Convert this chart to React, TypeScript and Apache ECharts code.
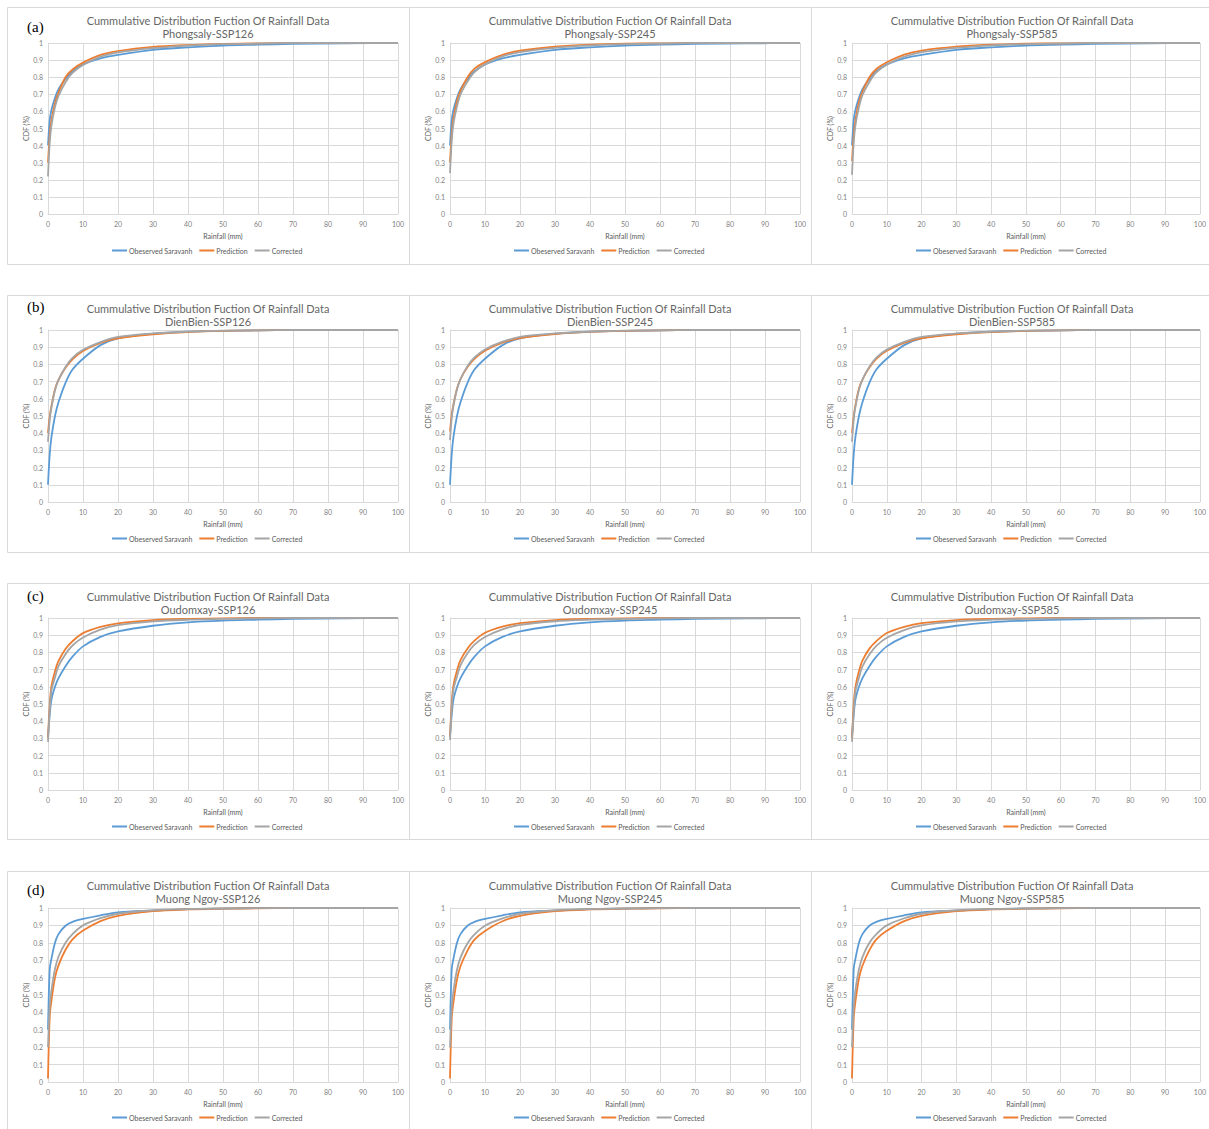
import React, { useEffect, useRef } from "react";
import * as echarts from "echarts";

// Rainfall sample points (mm) shared by every curve
const RAIN = [0, 0.5, 1, 2, 3, 5, 7, 10, 15, 20, 30, 40, 50, 60, 70, 85, 100];

// (a) Phongsaly
const PHONGSALY_OBS = [0.4, 0.55, 0.61, 0.68, 0.73, 0.79, 0.835, 0.875, 0.91, 0.93, 0.96, 0.975, 0.985, 0.99, 0.995, 0.998, 1];
const PHONGSALY_126_PRED = [0.3, 0.46, 0.55, 0.65, 0.71, 0.8, 0.845, 0.885, 0.93, 0.953, 0.977, 0.988, 0.995, 0.998, 1, 1, 1];
const PHONGSALY_126_CORR = [0.22, 0.42, 0.52, 0.625, 0.69, 0.77, 0.825, 0.871, 0.92, 0.945, 0.97, 0.985, 0.993, 0.997, 1, 1, 1];
const PHONGSALY_245_PRED = [0.3, 0.47, 0.56, 0.66, 0.72, 0.8, 0.85, 0.888, 0.93, 0.955, 0.978, 0.99, 0.996, 0.998, 1, 1, 1];
const PHONGSALY_245_CORR = [0.24, 0.43, 0.53, 0.63, 0.7, 0.775, 0.83, 0.875, 0.922, 0.947, 0.972, 0.986, 0.994, 0.997, 1, 1, 1];
const PHONGSALY_585_PRED = [0.31, 0.46, 0.55, 0.655, 0.715, 0.8, 0.848, 0.887, 0.932, 0.956, 0.979, 0.99, 0.996, 0.998, 1, 1, 1];
const PHONGSALY_585_CORR = [0.23, 0.42, 0.52, 0.625, 0.695, 0.772, 0.828, 0.873, 0.92, 0.946, 0.971, 0.986, 0.994, 0.997, 1, 1, 1];

// (b) DienBien
const DIENBIEN_OBS = [0.1, 0.28, 0.38, 0.5, 0.58, 0.693, 0.77, 0.833, 0.912, 0.952, 0.978, 0.99, 0.995, 0.998, 1, 1, 1];
const DIENBIEN_126_PRED = [0.4, 0.5, 0.56, 0.655, 0.71, 0.78, 0.83, 0.878, 0.925, 0.952, 0.975, 0.988, 0.995, 0.998, 1, 1, 1];
const DIENBIEN_126_CORR = [0.35, 0.48, 0.55, 0.65, 0.71, 0.785, 0.838, 0.885, 0.93, 0.96, 0.98, 0.99, 0.996, 0.998, 1, 1, 1];
const DIENBIEN_245_PRED = [0.41, 0.51, 0.57, 0.66, 0.715, 0.785, 0.833, 0.88, 0.926, 0.953, 0.976, 0.989, 0.995, 0.998, 1, 1, 1];
const DIENBIEN_245_CORR = [0.36, 0.49, 0.56, 0.655, 0.715, 0.79, 0.84, 0.887, 0.932, 0.96, 0.98, 0.99, 0.996, 0.998, 1, 1, 1];
const DIENBIEN_585_PRED = [0.4, 0.5, 0.565, 0.66, 0.712, 0.782, 0.832, 0.879, 0.925, 0.952, 0.975, 0.988, 0.995, 0.998, 1, 1, 1];
const DIENBIEN_585_CORR = [0.35, 0.485, 0.555, 0.652, 0.712, 0.787, 0.84, 0.886, 0.931, 0.96, 0.98, 0.99, 0.996, 0.998, 1, 1, 1];

// (c) Oudomxay
const OUDOMXAY_OBS = [0.31, 0.44, 0.527, 0.6, 0.65, 0.72, 0.775, 0.835, 0.89, 0.922, 0.955, 0.975, 0.985, 0.99, 0.995, 0.998, 1];
const OUDOMXAY_126_PRED = [0.3, 0.5, 0.605, 0.69, 0.75, 0.82, 0.865, 0.912, 0.948, 0.969, 0.988, 0.995, 0.998, 1, 1, 1, 1];
const OUDOMXAY_126_CORR = [0.28, 0.47, 0.58, 0.654, 0.72, 0.79, 0.84, 0.887, 0.932, 0.958, 0.98, 0.99, 0.995, 0.998, 1, 1, 1];
const OUDOMXAY_245_PRED = [0.31, 0.51, 0.61, 0.695, 0.755, 0.823, 0.868, 0.914, 0.95, 0.97, 0.988, 0.995, 0.998, 1, 1, 1, 1];
const OUDOMXAY_245_CORR = [0.29, 0.48, 0.585, 0.66, 0.725, 0.795, 0.845, 0.89, 0.934, 0.96, 0.981, 0.99, 0.995, 0.998, 1, 1, 1];
const OUDOMXAY_585_PRED = [0.3, 0.5, 0.6, 0.69, 0.752, 0.822, 0.866, 0.913, 0.949, 0.97, 0.988, 0.995, 0.998, 1, 1, 1, 1];
const OUDOMXAY_585_CORR = [0.28, 0.46, 0.575, 0.652, 0.718, 0.788, 0.838, 0.885, 0.93, 0.957, 0.98, 0.99, 0.995, 0.998, 1, 1, 1];

// (d) Muong Ngoy
const MUONGNGOY_OBS = [0.3, 0.65, 0.71, 0.8, 0.85, 0.898, 0.92, 0.937, 0.958, 0.975, 0.985, 0.993, 0.997, 1, 1, 1, 1];
const MUONGNGOY_OBS_SHORT = [0.3, 0.65, 0.71, 0.8, 0.85, 0.898, 0.92, 0.937, 0.958, 0.975, 0.985, 0.993, 0.997, 1, 1, 1, null];
const MUONGNGOY_126_PRED = [0.02, 0.38, 0.47, 0.6, 0.67, 0.76, 0.82, 0.87, 0.925, 0.955, 0.982, 0.992, 0.996, 0.998, 1, 1, 1];
const MUONGNGOY_126_CORR = [0.2, 0.44, 0.53, 0.65, 0.72, 0.8, 0.85, 0.9, 0.942, 0.967, 0.987, 0.994, 0.997, 0.999, 1, 1, 1];
const MUONGNGOY_245_PRED = [0.02, 0.37, 0.46, 0.59, 0.665, 0.755, 0.818, 0.868, 0.924, 0.955, 0.982, 0.992, 0.996, 0.998, 1, 1, 1];
const MUONGNGOY_245_CORR = [0.2, 0.43, 0.525, 0.645, 0.715, 0.797, 0.848, 0.898, 0.94, 0.966, 0.987, 0.994, 0.997, 0.999, 1, 1, 1];
const MUONGNGOY_585_PRED = [0.02, 0.37, 0.465, 0.595, 0.668, 0.758, 0.82, 0.869, 0.925, 0.955, 0.982, 0.992, 0.996, 0.998, 1, 1, 1];
const MUONGNGOY_585_CORR = [0.2, 0.435, 0.53, 0.648, 0.718, 0.8, 0.85, 0.9, 0.941, 0.967, 0.987, 0.994, 0.997, 0.999, 1, 1, 1];

const STATIONS = ["Phongsaly", "DienBien", "Oudomxay", "Muong Ngoy"];
const SCENARIOS = ["SSP126", "SSP245", "SSP585"];
const PANEL_LETTERS = ["(a)", "(b)", "(c)", "(d)"];
const SERIES_NAMES = ["Obeserved Saravanh", "Prediction", "Corrected"];
const CHART_TITLE = "Cummulative Distribution Fuction Of Rainfall Data";

const PANEL_DATA = [
  [
    [PHONGSALY_OBS, PHONGSALY_126_PRED, PHONGSALY_126_CORR],
    [PHONGSALY_OBS, PHONGSALY_245_PRED, PHONGSALY_245_CORR],
    [PHONGSALY_OBS, PHONGSALY_585_PRED, PHONGSALY_585_CORR],
  ],
  [
    [DIENBIEN_OBS, DIENBIEN_126_PRED, DIENBIEN_126_CORR],
    [DIENBIEN_OBS, DIENBIEN_245_PRED, DIENBIEN_245_CORR],
    [DIENBIEN_OBS, DIENBIEN_585_PRED, DIENBIEN_585_CORR],
  ],
  [
    [OUDOMXAY_OBS, OUDOMXAY_126_PRED, OUDOMXAY_126_CORR],
    [OUDOMXAY_OBS, OUDOMXAY_245_PRED, OUDOMXAY_245_CORR],
    [OUDOMXAY_OBS, OUDOMXAY_585_PRED, OUDOMXAY_585_CORR],
  ],
  [
    [MUONGNGOY_OBS, MUONGNGOY_126_PRED, MUONGNGOY_126_CORR],
    [MUONGNGOY_OBS_SHORT, MUONGNGOY_245_PRED, MUONGNGOY_245_CORR],
    [MUONGNGOY_OBS, MUONGNGOY_585_PRED, MUONGNGOY_585_CORR],
  ],
];

const COLORS = ["#5B9BD5", "#ED7D31", "#A5A5A5"];

// layout (pixels)
const PLOT_LEFT = [48, 450, 852];
const PLOT_WIDTH = [350, 350, 349];
const PLOT_TOP = [43, 330, 618, 908];
const PLOT_HEIGHT = [171, 172, 172, 174];
const BOX_LEFT = [7, 409, 811];
const BOX_RIGHT = [409, 811, 1215];
const BOX_TOP = [7, 295, 583, 871];
const BOX_BOTTOM = [264, 552, 839, 1140];
const TITLE_X = [208, 610, 1012];
const TITLE_Y = [20, 308, 596, 885];
const LEGEND_LEFT = [112, 514, 916];
const LEGEND_Y = [252, 540, 828, 1119];
const LETTER_Y = [27, 307, 596, 890];

const FONT = "Lato";
const TEXT_COLOR = "#595959";
const GRID_COLOR = "#d9d9d9";

export default function App() {
  const ref = useRef<HTMLDivElement>(null);

  useEffect(() => {
    if (!ref.current) return;
    const chart = echarts.init(ref.current, undefined, { renderer: "svg" });

    const grids: any[] = [];
    const xAxes: any[] = [];
    const yAxes: any[] = [];
    const series: any[] = [];
    const legends: any[] = [];
    const graphics: any[] = [];

    for (let r = 0; r < 4; r++) {
      graphics.push({
        type: "text",
        x: 27,
        y: LETTER_Y[r],
        style: {
          text: PANEL_LETTERS[r],
          fontSize: 15,
          fontFamily: "Liberation Serif",
          fill: "#000",
          textAlign: "left",
          textVerticalAlign: "middle",
          align: "left",
          verticalAlign: "middle",
        },
        z: 10,
      });
      for (let c = 0; c < 3; c++) {
        const p = r * 3 + c;
        graphics.push({
          type: "rect",
          shape: {
            x: BOX_LEFT[c] + 0.5,
            y: BOX_TOP[r] + 0.5,
            width: BOX_RIGHT[c] - BOX_LEFT[c],
            height: BOX_BOTTOM[r] - BOX_TOP[r],
          },
          style: { fill: "none", stroke: GRID_COLOR, lineWidth: 1 },
          z: 0,
        });
        const titleLines = [CHART_TITLE, `${STATIONS[r]}-${SCENARIOS[c]}`];
        titleLines.forEach((t, i) => {
          graphics.push({
            type: "text",
            x: TITLE_X[c],
            y: TITLE_Y[r] + i * 13,
            style: {
              text: t,
              fontSize: 11,
              fontFamily: FONT,
              fill: "#666666",
              textAlign: "center",
              textVerticalAlign: "middle",
              align: "center",
              verticalAlign: "middle",
            },
            z: 10,
          });
        });

        grids.push({
          left: PLOT_LEFT[c],
          top: PLOT_TOP[r],
          width: PLOT_WIDTH[c],
          height: PLOT_HEIGHT[r],
          containLabel: false,
        });
        xAxes.push({
          gridIndex: p,
          type: "value",
          min: 0,
          max: 100,
          interval: 10,
          name: "Rainfall (mm)",
          nameLocation: "middle",
          nameGap: 18,
          nameTextStyle: { fontSize: 7, color: TEXT_COLOR, fontFamily: FONT },
          axisLine: { show: true, lineStyle: { color: GRID_COLOR } },
          axisTick: { show: false },
          axisLabel: { fontSize: 7, color: "#7f7f7f", margin: 6, fontFamily: FONT },
          splitLine: { show: true, lineStyle: { color: GRID_COLOR, width: 1 } },
        });
        yAxes.push({
          gridIndex: p,
          type: "value",
          min: 0,
          max: 1,
          interval: 0.1,
          name: "CDF (%)",
          nameLocation: "middle",
          nameGap: 19,
          nameTextStyle: { fontSize: 7, color: TEXT_COLOR, fontFamily: FONT },
          axisLine: { show: true, lineStyle: { color: GRID_COLOR } },
          axisTick: { show: false },
          axisLabel: { fontSize: 7, color: "#7f7f7f", margin: 5, fontFamily: FONT },
          splitLine: { show: true, lineStyle: { color: GRID_COLOR, width: 1 } },
        });
        PANEL_DATA[r][c].forEach((vals, s) => {
          const data: any[] = [];
          RAIN.forEach((x, i) => {
            if (vals[i] !== null && vals[i] !== undefined) data.push([x, vals[i]]);
          });
          series.push({
            type: "line",
            name: SERIES_NAMES[s],
            xAxisIndex: p,
            yAxisIndex: p,
            data,
            showSymbol: false,
            symbol: "none",
            smooth: 0.3,
            lineStyle: { width: 1.8, color: COLORS[s] },
            itemStyle: { color: COLORS[s] },
            z: 2 + s,
            silent: true,
          });
        });
        legends.push({
          left: LEGEND_LEFT[c],
          top: LEGEND_Y[r] - 5,
          data: SERIES_NAMES,
          icon: "rect",
          itemWidth: 15,
          itemHeight: 2,
          itemGap: 7,
          padding: 0,
          selectedMode: false,
          textStyle: { fontSize: 7, color: TEXT_COLOR, fontFamily: FONT, padding: [0, 0, 0, -3] },
        });
      }
    }

    chart.setOption({
      animation: false,
      backgroundColor: "#ffffff",
      grid: grids,
      xAxis: xAxes,
      yAxis: yAxes,
      series,
      legend: legends,
      graphic: { elements: graphics },
    });

    return () => chart.dispose();
  }, []);

  return (
    <div
      ref={ref}
      style={{ position: "absolute", left: 0, top: 0, width: 1209, height: 1129, background: "#fff" }}
    />
  );
}
